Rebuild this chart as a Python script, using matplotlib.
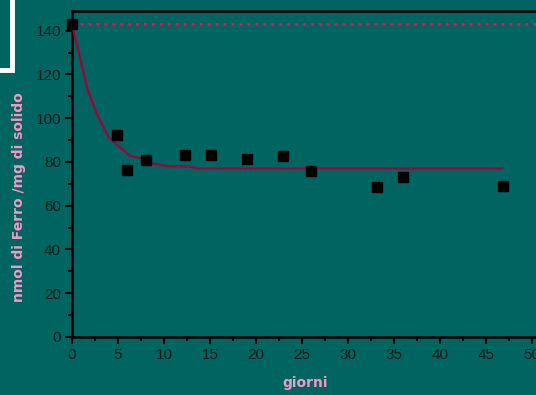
import matplotlib.pyplot as plt
from matplotlib.ticker import MultipleLocator
from matplotlib.patches import Rectangle

# measured points
giorni = [0, 4.9, 6.0, 8.1, 12.3, 15.1, 19.0, 22.9, 26.0, 33.2, 36.0, 46.9]
ferro = [143, 92.4, 76.1, 80.7, 83.3, 83.3, 81.4, 82.5, 75.9, 68.6, 73.2, 69.0]

# fitted curve
fit_x = [0, 1.7, 2.7, 4.0, 5.0, 6.3, 7.3, 8.7, 9.5, 10.3, 12.7, 13.6, 46.8]
fit_y = [143, 113, 102, 91.2, 87.5, 82.8, 81.8, 79.2, 79.0, 78.0, 78.0, 77.0, 77.0]

livello_iniziale = 143

bg = '#006561'
pink = '#f29ac6'

fig = plt.figure(figsize=(5.36, 3.95), dpi=100)
fig.patch.set_facecolor(bg)
ax = fig.add_axes([72 / 536, 1 - 337 / 395, 478 / 536, 326 / 395])
ax.set_facecolor(bg)

ax.axhline(livello_iniziale, color='#e0105a', linestyle=(0, (1, 1.6)), linewidth=2.2, zorder=2)
ax.plot(fit_x, fit_y, color='#a3003c', linewidth=1.6, zorder=3)
ax.plot(giorni, ferro, 's', color='black', markersize=6.5, zorder=4, clip_on=False)

ax.set_xlim(0, 52)
ax.set_ylim(0, 149)
ax.xaxis.set_major_locator(MultipleLocator(5))
ax.xaxis.set_minor_locator(MultipleLocator(2.5))
ax.yaxis.set_major_locator(MultipleLocator(20))
ax.yaxis.set_minor_locator(MultipleLocator(10))

for s in ['left', 'bottom', 'top']:
    ax.spines[s].set_linewidth(1.8)
    ax.spines[s].set_color('black')
ax.spines['right'].set_visible(False)
ax.tick_params(which='major', direction='out', length=5, width=1.5,
               labelsize=11, labelcolor='#0f1c1c', pad=3)
ax.tick_params(which='minor', direction='out', length=3, width=1.5)
for lab in ax.get_xticklabels() + ax.get_yticklabels():
    lab.set_family('Liberation Sans')

fig.text(305 / 536, 1 - 383 / 395, 'giorni', color=pink, fontsize=10,
         fontweight='bold', ha='center', va='center')
fig.text(19 / 536, 1 - 197 / 395, 'nmol di Ferro /mg di solido', color=pink,
         fontsize=10, fontweight='bold', rotation=90, ha='center', va='center')

# white frame in the top-left corner
fig.patches.append(Rectangle((-10 / 536, 1 - 70 / 395), 22 / 536, 80 / 395,
                             transform=fig.transFigure, fill=False,
                             edgecolor='white', linewidth=3.5))

plt.savefig('out.png', dpi=100, facecolor=bg)
